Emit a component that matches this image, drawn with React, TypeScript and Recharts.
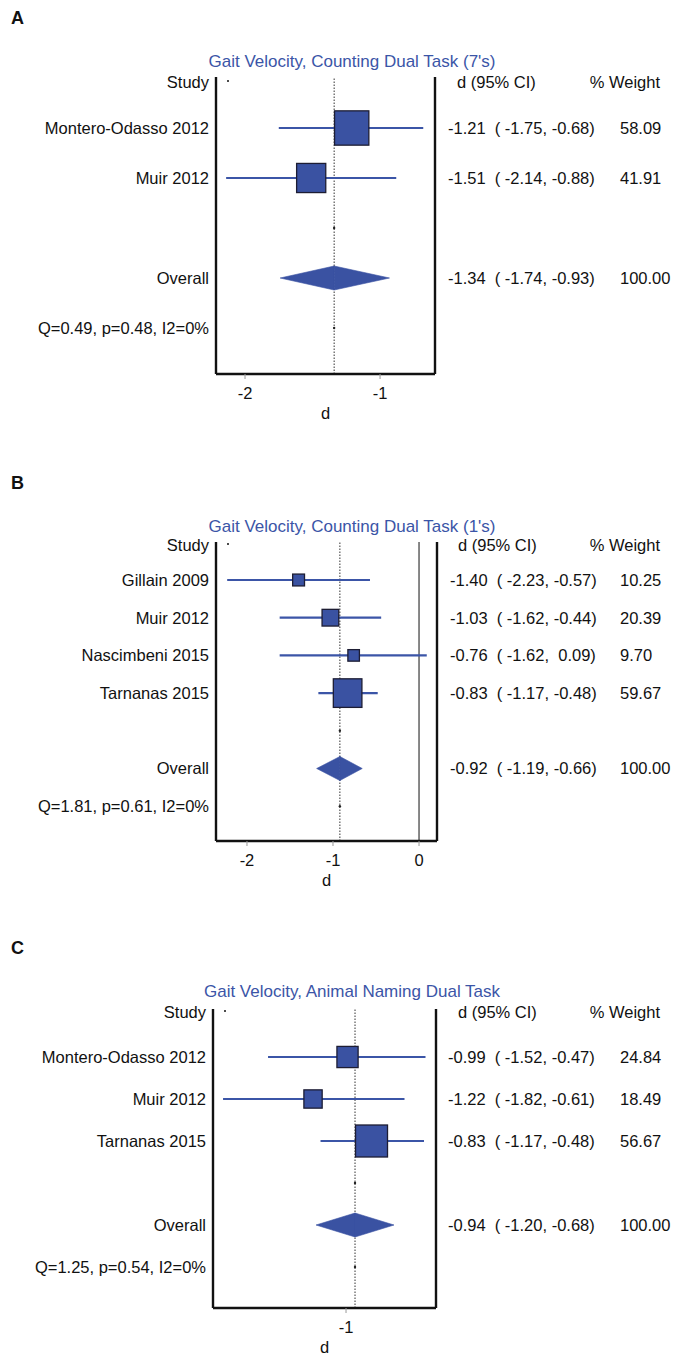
import React from 'react';
import { ComposedChart, XAxis, YAxis, Scatter, ReferenceLine, ReferenceDot } from 'recharts';

document.body.style.margin = '0';

// --- A: Counting dual task (7's) ---
const studiesA = ['Montero-Odasso 2012', 'Muir 2012'];
const dA = [-1.21, -1.51];
const loA = [-1.75, -2.14];
const hiA = [-0.68, -0.88];
const weightA = [58.09, 41.91];
const overallA = [-1.34, -1.74, -0.93];
const hetA = 'Q=0.49, p=0.48, I2=0%';
const ticksA = [-2, -1];

// --- B: Counting dual task (1's) ---
const studiesB = ['Gillain 2009', 'Muir 2012', 'Nascimbeni 2015', 'Tarnanas 2015'];
const dB = [-1.4, -1.03, -0.76, -0.83];
const loB = [-2.23, -1.62, -1.62, -1.17];
const hiB = [-0.57, -0.44, 0.09, -0.48];
const weightB = [10.25, 20.39, 9.7, 59.67];
const overallB = [-0.92, -1.19, -0.66];
const hetB = 'Q=1.81, p=0.61, I2=0%';
const ticksB = [-2, -1, 0];

// --- C: Animal naming dual task ---
const studiesC = ['Montero-Odasso 2012', 'Muir 2012', 'Tarnanas 2015'];
const dC = [-0.99, -1.22, -0.83];
const loC = [-1.52, -1.82, -1.17];
const hiC = [-0.47, -0.61, -0.48];
const weightC = [24.84, 18.49, 56.67];
const overallC = [-0.94, -1.2, -0.68];
const hetC = 'Q=1.25, p=0.54, I2=0%';
const ticksC = [-1];

const FONT = '"Liberation Sans", Arial, Helvetica, sans-serif';
const BLUE = '#3b55a7';
const BOX = '#3a52a2';
const INK = '#111';
const FS = 16.5;

// keep the columns lined up like the stata output (space instead of minus)
const fmt = (v: number) => (v < 0 ? v.toFixed(2) : ' ' + v.toFixed(2));

function Panel({ letter, title, studies, d, lo, hi, weight, overall, het, ticks, lay }: any) {
  const n = studies.length;
  const toRow = (py: number) => (py - lay.row1) / lay.step + 1;
  const yMin = toRow(lay.frameTop);
  const yMax = toRow(lay.frameBottom);
  const headRow = toRow(lay.headerY);
  const blankRow = n + 1;
  const overallRow = n + 2;
  const hetRow = n + 3;

  const pts = studies.map((s: string, i: number) => ({ x: d[i], y: i + 1, w: weight[i] }));
  const studyRows = studies.map((_: any, i: number) => i + 1);
  const leftTicks = [headRow, ...studyRows, overallRow, hetRow];
  const rightTicks = [headRow, ...studyRows, overallRow];

  const isHead = (v: number) => Math.abs(v - headRow) < 1e-6;

  const leftLabel = (v: number) => {
    if (isHead(v)) return 'Study';
    if (v === overallRow) return 'Overall';
    if (v === hetRow) return het;
    return studies[v - 1] ?? '';
  };

  const LeftTick = (p: any) => {
    const v = p.payload.value;
    return (
      <g>
        <text x={p.x} y={p.y} dy="0.36em" textAnchor="end" fontSize={FS} fontFamily={FONT} fill={INK}>
          {leftLabel(v)}
        </text>
        {isHead(v) && <circle cx={lay.frameLeft + 12} cy={p.y - 1} r={1} fill={INK} />}
      </g>
    );
  };

  const RightTick = (p: any) => {
    const v = p.payload.value;
    if (isHead(v)) {
      return (
        <g>
          <text x={lay.headX} y={p.y} dy="0.36em" fontSize={FS} fontFamily={FONT} fill={INK}>d (95% CI)</text>
          <text x={660} y={p.y} dy="0.36em" textAnchor="end" fontSize={FS} fontFamily={FONT} fill={INK}>% Weight</text>
        </g>
      );
    }
    let est: number, l: number, h: number, w: number;
    if (v === overallRow) {
      [est, l, h] = overall;
      w = 100;
    } else {
      est = d[v - 1]; l = lo[v - 1]; h = hi[v - 1]; w = weight[v - 1];
    }
    return (
      <g>
        <text x={lay.valX} y={p.y} dy="0.36em" fontSize={FS} fontFamily={FONT} fill={INK} style={{ whiteSpace: 'pre' }}>
          {`${fmt(est)}  ( ${fmt(l)}, ${fmt(h)})`}
        </text>
        <text x={620} y={p.y} dy="0.36em" fontSize={FS} fontFamily={FONT} fill={INK}>{w.toFixed(2)}</text>
      </g>
    );
  };

  // box area ~ weight
  const Box = (p: any) => {
    const s = lay.box * Math.sqrt(p.payload.w);
    return <rect x={p.cx - s / 2} y={p.cy - s / 2} width={s} height={s} fill={BOX} stroke="#1d1d33" strokeWidth={1.3} />;
  };

  const H = 12;
  const leftHalf = (p: any) => (
    <polygon points={`${p.x1},${p.y1} ${p.x2},${p.y2 - H} ${p.x2},${p.y2 + H}`} fill={BOX} stroke={BOX} strokeWidth={0.6} />
  );
  const rightHalf = (p: any) => (
    <polygon points={`${p.x1},${p.y1 - H} ${p.x2},${p.y2} ${p.x1},${p.y1 + H}`} fill={BOX} stroke={BOX} strokeWidth={0.6} />
  );

  const height = lay.frameBottom - lay.top + 48;

  return (
    <div style={{ position: 'absolute', left: 0, top: lay.top, width: 674, height }}>
      <div style={{ position: 'absolute', left: 11, top: 8, height: 20, lineHeight: '20px', fontFamily: FONT, fontWeight: 'bold', fontSize: 18, color: INK }}>
        {letter}
      </div>
      <div style={{ position: 'absolute', left: 352, top: lay.titleY - lay.top - 10, height: 20, lineHeight: '20px', transform: 'translateX(-50%)', whiteSpace: 'nowrap', fontFamily: FONT, fontSize: 17, color: BLUE }}>
        {title}
      </div>
      <ComposedChart width={674} height={height} margin={{ top: lay.frameTop - lay.top, right: 0, bottom: 0, left: 0 }}>
        <XAxis
          type="number"
          dataKey="x"
          domain={[lay.xMin, lay.xMax]}
          allowDataOverflow
          ticks={ticks}
          interval={0}
          height={48}
          axisLine={{ stroke: INK, strokeWidth: 2.4 }}
          tickLine={{ stroke: '#999' }}
          tickSize={5}
          tickMargin={8}
          tick={{ fontSize: FS, fontFamily: FONT, fill: INK }}
          tickFormatter={(v: number) => String(v)}
          label={{ value: 'd', position: 'insideBottom', offset: 3, fontSize: FS, fontFamily: FONT, fill: INK }}
        />
        <YAxis
          yAxisId="l"
          type="number"
          dataKey="y"
          reversed
          domain={[yMin, yMax]}
          allowDataOverflow
          ticks={leftTicks}
          interval={0}
          width={lay.frameLeft}
          axisLine={{ stroke: INK, strokeWidth: 2.4 }}
          tickLine={false}
          tickSize={0}
          tickMargin={lay.labelGap}
          tick={LeftTick}
        />
        <YAxis
          yAxisId="r"
          orientation="right"
          type="number"
          reversed
          domain={[yMin, yMax]}
          allowDataOverflow
          ticks={rightTicks}
          interval={0}
          width={674 - lay.frameRight}
          axisLine={{ stroke: INK, strokeWidth: 2.4 }}
          tickLine={false}
          tickSize={0}
          tickMargin={0}
          tick={RightTick}
        />
        {lay.xMin < 0 && lay.xMax > 0 && <ReferenceLine yAxisId="l" x={0} stroke={INK} strokeWidth={1} />}
        <ReferenceLine yAxisId="l" x={overall[0]} stroke="#333" strokeWidth={1} strokeDasharray="1.5 1.5" />
        <ReferenceDot yAxisId="l" x={overall[0]} y={blankRow} r={1.2} fill="#222" stroke="none" />
        <ReferenceDot yAxisId="l" x={overall[0]} y={hetRow} r={1.2} fill="#222" stroke="none" />
        {studies.map((s: string, i: number) => (
          <ReferenceLine
            key={s}
            yAxisId="l"
            segment={[{ x: lo[i], y: i + 1 }, { x: hi[i], y: i + 1 }]}
            stroke={BLUE}
            strokeWidth={2.2}
          />
        ))}
        <ReferenceLine yAxisId="l" segment={[{ x: overall[1], y: overallRow }, { x: overall[0], y: overallRow }]} shape={leftHalf} />
        <ReferenceLine yAxisId="l" segment={[{ x: overall[0], y: overallRow }, { x: overall[2], y: overallRow }]} shape={rightHalf} />
        <Scatter yAxisId="l" data={pts} shape={Box} isAnimationActive={false} />
      </ComposedChart>
    </div>
  );
}

const layA = { top: 0, titleY: 62, frameTop: 77, frameBottom: 374, frameLeft: 216, frameRight: 435, row1: 128, step: 50, headerY: 82, xMin: -2.215, xMax: -0.593, box: 4.5, labelGap: 7, valX: 448, headX: 457 };
const layB = { top: 465, titleY: 527, frameTop: 542, frameBottom: 841, frameLeft: 216, frameRight: 437, row1: 580, step: 37.7, headerY: 545, xMin: -2.36, xMax: 0.209, box: 3.7, labelGap: 7, valX: 450, headX: 458 };
const layC = { top: 930, titleY: 992, frameTop: 1009, frameBottom: 1308, frameLeft: 213, frameRight: 436, row1: 1057, step: 42, headerY: 1012, xMin: -1.887, xMax: -0.4, box: 4.25, labelGap: 7, valX: 448, headX: 458 };

export default function App() {
  return (
    <div style={{ position: 'relative', width: 674, height: 1355, background: '#fff', overflow: 'hidden' }}>
      <Panel letter="A" title="Gait Velocity, Counting Dual Task (7's)" studies={studiesA} d={dA} lo={loA} hi={hiA} weight={weightA} overall={overallA} het={hetA} ticks={ticksA} lay={layA} />
      <Panel letter="B" title="Gait Velocity, Counting Dual Task (1's)" studies={studiesB} d={dB} lo={loB} hi={hiB} weight={weightB} overall={overallB} het={hetB} ticks={ticksB} lay={layB} />
      <Panel letter="C" title="Gait Velocity, Animal Naming Dual Task" studies={studiesC} d={dC} lo={loC} hi={hiC} weight={weightC} overall={overallC} het={hetC} ticks={ticksC} lay={layC} />
    </div>
  );
}
